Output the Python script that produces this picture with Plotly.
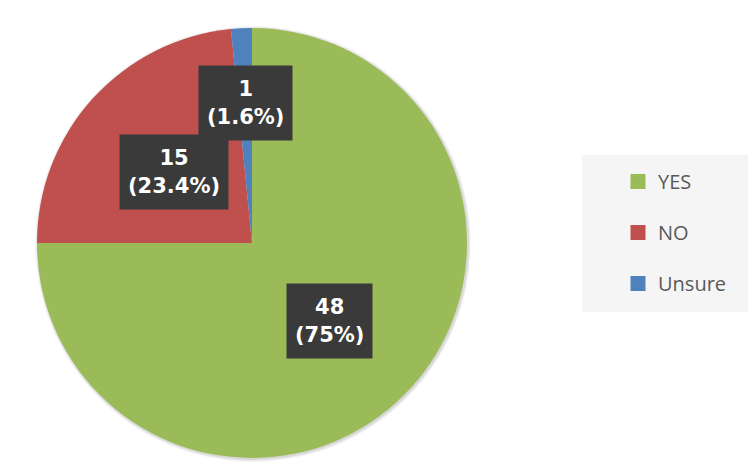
import math
import plotly.graph_objects as go

labels = ["YES", "NO", "Unsure"]
values = [48, 15, 1]
colors = ["#9BBB59", "#C0504D", "#4F81BD"]
label_radius = [0.51, 0.49, 0.65]

W, H = 750, 462
cx, cy, r = 252, 243, 215  # pie centre / radius in px


def dom(x0, y0, rad):
    return dict(x=[max(0, (x0 - rad) / W), min(1, (x0 + rad) / W)],
                y=[max(0, 1 - (y0 + rad) / H), min(1, 1 - (y0 - rad) / H)])


fig = go.Figure()

# soft shadow behind the pie
for k, a in [(3, 0.035), (2, 0.05), (1, 0.07)]:
    fig.add_trace(go.Pie(values=[1], labels=["s"], sort=False, textinfo="none",
                         hoverinfo="skip", showlegend=False,
                         marker=dict(colors=[f"rgba(0,0,0,{a})"], line=dict(width=0)),
                         domain=dom(cx + 1, cy + 1, r + k)))

fig.add_trace(go.Pie(
    labels=labels, values=values, sort=False, direction="clockwise", rotation=0,
    marker=dict(colors=colors, line=dict(width=0)), textinfo="none",
    hoverinfo="label+value+percent", showlegend=False,
    domain=dom(cx, cy, r),
))

# legend entries
for lab, col in zip(labels, colors):
    fig.add_trace(go.Scatter(x=[None], y=[None], mode="markers", name=lab,
                             legendgroup=lab,
                             marker=dict(symbol="square", size=15, color=col)))

total = sum(values)
cum = 0
for v, f in zip(values, label_radius):
    mid = (cum + v / 2) / total * 2 * math.pi
    cum += v
    px = cx + f * r * math.sin(mid)
    py = cy - f * r * math.cos(mid)
    pct = f"{100 * v / total:.1f}".rstrip("0").rstrip(".")
    fig.add_annotation(x=px / W, y=1 - py / H, xref="paper", yref="paper",
                       xanchor="center", yanchor="middle",
                       text=f"{v}<br>({pct}%)", showarrow=False,
                       font=dict(family="DejaVu Sans", size=21, color="white", weight="bold"),
                       bgcolor="#3A3A3A", borderpad=8, height=58, align="center")

fig.add_shape(type="rect", xref="paper", yref="paper",
              x0=582 / W, x1=748 / W, y0=1 - 312 / H, y1=1 - 155 / H,
              fillcolor="#F5F5F5", line=dict(width=0), layer="below")

fig.update_layout(
    width=W, height=H, margin=dict(l=0, r=0, t=0, b=0),
    paper_bgcolor="white", plot_bgcolor="rgba(0,0,0,0)",
    xaxis=dict(visible=False), yaxis=dict(visible=False),
    legend=dict(x=618 / W, y=1 - 162 / H, xanchor="left", yanchor="top",
                bgcolor="rgba(0,0,0,0)", tracegroupgap=22,
                font=dict(family="Open Sans", size=20, color="#595959")),
)

fig.write_html("out.html")
